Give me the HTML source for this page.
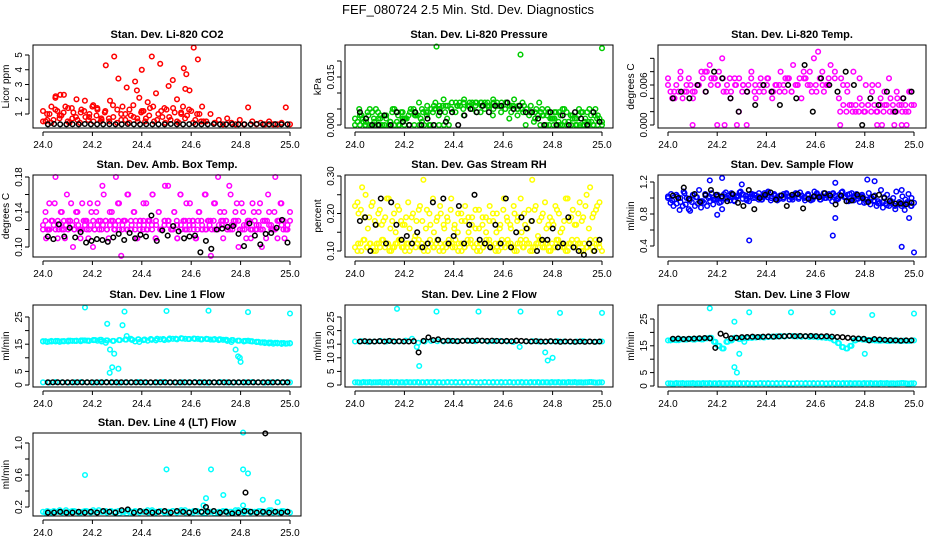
<!DOCTYPE html>
<html><head><meta charset="utf-8">
<style>
html,body{margin:0;padding:0;background:#fff;}
svg{display:block;font-family:"Liberation Sans",Arial,sans-serif;}
</style></head>
<body>
<svg id="chart" width="936" height="540" viewBox="0 0 936 540" xmlns="http://www.w3.org/2000/svg">
<rect width="936" height="540" fill="#fff"/>
<text x="468" y="14" text-anchor="middle" font-size="13">FEF_080724  2.5 Min. Std. Dev. Diagnostics</text>
</svg>
<script>
// ---------- data ----------
const co2Red = [1.2,0.6,1.5,2.2,0.9,2.3,1.4,0.7,2.0,1.1,1.9,0.8,1.6,1.3,0.6,4.3,1.9,4.9,3.4,1.5,2.8,0.9,3.2,2.1,1.2,1.8,4.9,2.4,4.4,1.4,2.9,3.3,2.0,1.0,2.7,2.6,5.5,4.7,1.5,0.5,1.0,0.4,0.6,0.3,0.7,0.4,0.3,0.6,0.3,1.45,0.5,0.3,0.4,0.3,0.5,0.3,0.3,0.4,1.45,0.3];
const co2RedLow = [0.5,1.0,0.4,1.3,0.7,1.1,0.5,1.4,0.8,0.4,1.2,0.6,1.5,0.9,0.5,1.1,0.7,1.6,0.4,1.0,0.6,1.3,0.8,0.5,1.2,0.7,1.4,0.5,1.0,0.8,1.3,0.6,1.1,0.4,1.5,0.9,1.2,0.6,1.0,0.5];
const co2RedSparseX = [24.4,24.57,24.58,24.38,24.05,24.07];
const co2RedSparseY = [4.0,4.1,3.7,2.6,2.1,2.3];
const co2Black = [0.3,0.32,0.3,0.3,0.31,0.3,0.32,0.3,0.3,0.3,0.31,0.3,0.3,0.32,0.3,0.3,0.31,0.3,0.3,0.3,0.32,0.3,0.3,0.31,0.3,0.3,0.3,0.32,0.3,0.3,0.31,0.3,0.3,0.3,0.32,0.3,0.3,0.31,0.3,0.3];

const presGreen = [0.002,0.005,0.001,0.004,0.000,0.005,0.002,0.003,0.000,0.005,0.001,0.004,0.002,0.000,0.005,0.003,0.001,0.004,0.000,0.005,0.003,0.006,0.002,0.005,0.004,0.007,0.003,0.006,0.005,0.007,0.004,0.007,0.006,0.008,0.006,0.007,0.007,0.006,0.008,0.006,0.007,0.005,0.006,0.004,0.007,0.003,0.005,0.002,0.004,0.000,0.005,0.001,0.003,0.000,0.004,0.002,0.005,0.000,0.003,0.001];
const presGreen2 = [0.003,0.001,0.004,0.002,0.003,0.001,0.004,0.002,0.003,0.004,0.002,0.003,0.004,0.005,0.004,0.005,0.006,0.005,0.006,0.007,0.006,0.007,0.007,0.006,0.007,0.006,0.005,0.006,0.004,0.005,0.003,0.004,0.002,0.003,0.004,0.002,0.003,0.001,0.003,0.002];
const presZerosA = [0,0,0,0,0,0,0,0,0,0,0,0,0,0,0,0,0,0,0,0];
const presZerosB = [0,0,0,0,0,0,0,0,0,0,0,0,0,0,0];
const presOutX = [24.33,24.67,25.0];
const presOutY = [0.0245,0.022,0.024];
const presBlack = [0.004,0.002,0,0,0.003,0,0.004,0.001,0,0.004,0,0.002,0,0.004,0.001,0.004,0,0.003,0.005,0.004,0.006,0.004,0.006,0.006,0.007,0.005,0.006,0.004,0.004,0.002,0,0.004,0,0.003,0,0.004,0.002,0,0.004,0.001];

const tempMag = [.007,.004,.006,.008,.005,.007,.004,.006,.008,.005,.009,.007,.006,.010,.005,.004,.007,.002,.006,.005,.008,.004,.006,.005,.007,.004,.006,.008,.005,.007,.009,.006,.004,.007,.008,.010,.011,.008,.006,.009,.007,.004,.006,.005,.003,.002,.004,.002,.003,.006,.002,.004,.003,.007,.002,.004,.003,.002,.005,.003];
const tempMag2 = [.006,.005,.007,.006,.005,.006,.008,.007,.006,.005,.007,.006,.005,.006,.005,.007,.006,.005,.006,.007,.005,.006,.007,.006,.005,.006,.007,.008,.007,.006,.008,.007,.006,.005,.006,.005,.004,.005,.004,.005];
const tempLow = [.002,.003,.002,.003,.002,.003,.002,.003,.002,.003,.002,.003,.002,.003,.002,.003,.002,.003,.002,.003,.002,.003,.002,.003];
const tempZeroX = [24.1,24.2,24.23,24.28,24.32,24.7,24.85,24.87,24.92,24.95,24.97];
const tempZeroY = [0,0,0,0,0,0,0,0,0,0,0];
const tempBlack = [.004,.005,.004,.006,.005,.008,.007,.004,.002,.005,.003,.006,.005,.003,.006,.004,.009,.002,.007,.006,.005,.008,.006,.000,.004,.003,.005,.002,.004,.005];

const ambMag = [.12,.11,.15,.13,.18,.12,.14,.11,.13,.15,.12,.14,.11,.13,.12,.15,.10,.14,.12,.17,.13,.11,.14,.12,.15,.09,.13,.16,.12,.14,.11,.13,.12,.15,.13,.16,.11,.14,.12,.13,.17,.12,.14,.11,.16,.13,.12,.15,.13,.11,.14,.12,.16,.13,.12,.15,.18,.13,.14,.12,.16,.13,.15,.12,.14,.11,.13,.15,.12,.14,.10,.13,.16,.12,.14,.11,.15,.13,.12,.14];
const ambMag2 = [.125,.12,.13,.12,.125,.13,.12,.125,.13,.12,.125,.12,.13,.125,.12,.13,.125,.12,.13,.125,.12,.13,.12,.125,.13,.12,.125,.13,.12,.125,.13,.12,.125,.12,.13,.125,.12,.13,.125,.12,.13,.12,.125,.13,.12,.125,.13,.12,.125,.13,.12,.125,.12,.13,.125,.12,.13,.125,.12,.13];
const ambBlack = [.112,.109,.126,.112,.122,.111,.117,.105,.107,.109,.108,.106,.111,.115,.108,.116,.110,.114,.112,.136,.107,.119,.113,.124,.118,.110,.112,.113,.094,.107,.098,.120,.121,.123,.124,.115,.101,.127,.113,.103,.115,.116,.122,.131,.105];

const rhLow = [.11,.12,.10,.13,.11,.12,.10,.12,.11,.13,.12,.10,.11,.12,.13,.11,.10,.12,.11,.13,.12,.11,.10,.12,.13,.11,.12,.10,.11,.12,.13,.12,.11,.10,.12,.11,.13,.12,.11,.12,.10,.11,.13,.12,.11,.10,.12,.13,.11,.12,.11,.10,.12,.13,.11,.12,.10,.11,.12,.13,.11,.12,.10,.12,.11,.13,.12,.11,.10,.12,.11,.13,.12,.10,.11,.12,.11,.13,.12,.10];
const rhHigh = [.22,.20,.27,.25,.19,.23,.17,.21,.18,.24,.16,.20,.22,.18,.17,.23,.19,.14,.21,.18,.16,.20,.24,.18,.22,.17,.19,.21,.16,.15,.20,.18,.19,.17,.21,.16,.19,.15,.22,.18,.20,.17,.24,.18,.16,.20,.19,.15,.17,.21,.29,.22,.18,.20,.16,.19,.17,.21,.15,.18,.24,.19,.17,.20,.18,.22,.16,.19,.21,.23];
const rhBlack = [.18,.19,.10,.17,.24,.12,.23,.17,.13,.14,.12,.15,.11,.12,.23,.13,.24,.12,.14,.22,.12,.17,.25,.13,.12,.11,.17,.12,.24,.11,.15,.19,.16,.18,.10,.13,.13,.16,.11,.12,.19,.11,.10,.09,.12,.10,.13];

const flowBlue = [1.0,1.05,0.98,1.02,0.95,1.08,1.0,0.97,1.04,1.01,1.1,0.96,1.03,1.0,1.06,0.98,1.02,0.95,1.05,1.0,0.97,1.04,1.01,1.07,0.99,1.03,0.96,1.05,1.0,1.02,0.98,1.06,1.01,0.97,1.04,1.0,1.03,0.99,1.05,1.02,0.98,1.06,1.01,1.03,0.97,1.05,1.0,1.08,1.02,0.98,1.06,1.03,1.0,1.05,0.97,1.04,1.08,1.02,0.96,1.06,1.03,0.99,1.02,0.94,0.98,0.92,0.96,0.9,0.94,0.88,0.93,0.9,0.95,0.86,0.92,0.9,0.85,0.93,0.9,0.94];
const flowBlue2 = [1.02,0.97,1.04,1.0,1.06,0.99,1.03,1.01,0.96,1.05,1.02,0.98,1.04,1.0,1.07,1.01,0.97,1.03,1.05,0.99,1.02,1.04,0.98,1.01,1.06,1.0,1.03,0.99,1.05,1.02,1.0,1.04,1.07,1.01,1.03,0.98,1.05,1.02,1.0,1.04,1.06,0.99,1.03,1.01,1.05,0.97,1.02,1.04,0.95,1.0,0.97,0.93,0.95,0.91,0.94,0.9,0.93,0.92,0.95,0.9];
const flowOutX = [24.09,24.17,24.2,24.22,24.22,24.3,24.33,24.67,24.68,24.68,24.81,24.84,24.95,24.95,24.98,25.0];
const flowOutY = [0.84,1.22,0.79,1.25,0.86,1.17,0.47,0.53,0.75,1.19,1.23,1.21,0.39,1.1,0.75,0.32];
const flowBlack = [1.03,1.0,1.13,0.99,1.05,0.95,1.04,1.1,1.04,1.02,0.96,1.05,0.94,0.9,1.1,0.86,1.0,1.04,1.07,0.98,1.03,0.9,1.04,1.05,0.87,0.99,1.02,1.01,1.06,1.03,0.92,1.03,0.96,0.97,1.04,1.0,0.95,1.02,1.04,1.0,0.96,0.93,0.93,0.92,0.94];

const l1Cyan = [16,15.8,16.2,16,15.9,16.1,16,16.2,16.3,16.1,16.4,16.2,16.5,16.3,16,15.5,13,11.5,6,22,18,17,16,15.8,16.5,16.3,16.6,16.4,16.8,16.5,16.7,17,16.8,17.2,17,16.9,17.1,17,16.8,17,16.7,16.9,16.5,16.6,16.2,15.8,13,10,16,16.3,16,15.8,15.6,15.4,15.3,15.2,15.3,15.1,15.2,15.4];
const l1Cyan2 = [16.1,16,16.2,16.1,16.3,16.2,16.4,16.3,16.5,16.6,16.4,16.2,16.5,16.7,16.6,16.8,16.7,16.9,17,16.9,17.1,17,17.1,16.9,17,16.8,16.9,16.7,16.8,16.6,16.5,16.3,16.2,16.1,15.9,15.7,15.6,15.5,15.4,15.3];
const l1CyanLow = [1,0.9,1.1,1,0.9,1,1.1,1,0.9,1,1.1,1,0.9,1,1,1.1,1,0.9,1,1.1,1,0.9,1,1,1.1,1,0.9,1,1.1,1,0.9,1,1,1.1,1,0.9,1,1.1,1,1];
const l1OutX = [24.17,24.33,24.5,24.67,24.83,25.0,24.27,24.28,24.8,24.79,24.26];
const l1OutY = [28.5,27,27.2,27.3,26.8,26.3,4.5,6.5,8.5,10.5,22.5];
const l1Black = [1,1,1,1,1,1,1,1,1,1,1,1,1,1,1,1,1,1,1,1,1,1,1,1,1,1,1,1,1,1,1,1,1,1,1,1,1,1,1,1,1,1,1,1,1,1,1,1,1,1];

const l2Cyan = [16,16.1,15.9,16,16.2,16,16.1,16,16.3,17,15.5,16,16.2,16.1,16,16.2,16.1,16.3,16.2,16.1,16.2,16,16.1,16.2,16,15.8,14,16,16.1,16,15.9,16,16.1,16,15.9,16,16.1,16,15.9,16];
const l2CyanLow = [1,0.9,1.1,1,0.9,1,1.1,1,0.9,1,1.1,1,0.9,1,1,1.1,1,0.9,1,1.1,1,0.9,1,1,1.1,1,0.9,1,1.1,1,0.9,1,1,1.1,1,0.9,1,1.1,1,1,0.9,1,1.1,1,0.9,1,1,1.1,1,0.9,1,1.1,1,0.9,1,1,1.1,1,0.9,1];
const l2OutX = [24.17,24.33,24.5,24.67,24.83,25.0,24.26,24.78,24.8,24.77,24.25];
const l2OutY = [28,27,27,27,26.5,26.5,7,9,10,12,14];
const l2Black = [16,16.1,16,16,16.1,16,16.2,16,16.1,16,16,16.1,12,16.2,17.5,16.5,16.8,16.2,16.3,16.2,16.1,16.2,16.3,16.2,16.4,16.3,16.2,16.3,16.2,16.1,16.2,16.1,16.3,16.2,16.1,16,16.1,16,16,16.1,16,15.9,16,16,15.9,16,15.9,16,15.9,16];

const l3Cyan = [17,17.2,17.1,17.4,17.3,17.5,17.3,17.6,17.4,17.8,18,16.5,15,14,16.5,17,18,17.5,17.8,17.9,18,18.1,18.2,18.1,18.3,18.4,18.5,18.6,18.5,18.7,18.6,18.5,18.4,18.5,18.3,18.4,18.2,18.1,18,17.8,17,16,14.5,14,15,17,17.5,17.3,17.2,17.1,17,16.9,17,16.8,16.9,17,16.8,16.9,16.8,17];
const l3CyanLow = [1,0.9,1.1,1,0.9,1,1.1,1,0.9,1,1.1,1,0.9,1,1,1.1,1,0.9,1,1.1,1,0.9,1,1,1.1,1,0.9,1,1.1,1,0.9,1,1,1.1,1,0.9,1,1.1,1,1,0.9,1,1.1,1,0.9,1,1,1.1,1,0.9,1,1.1,1,0.9,1,1,1.1,1,0.9,1];
const l3OutX = [24.17,24.33,24.5,24.67,24.83,25.0,24.27,24.28,24.27,24.8,24.29,24.31];
const l3OutY = [29,27.5,27.5,27.5,26.5,27,7,5,24,12,12,16.5];
const l3Black = [17.6,17.7,17.5,17.6,17.7,17.8,17.9,17.8,14.2,19.5,18.8,17.8,18,18.2,18.3,18.4,18.3,18.4,18.5,18.4,18.5,18.6,18.7,18.6,18.7,18.6,18.7,18.6,18.5,18.6,18.4,18.3,18.2,18,17.8,17.7,17.6,17,17.5,17.3,17.2,17.1,17,16.9,17,17];

const l4Cyan = [0.14,0.15,0.13,0.14,0.16,0.14,0.13,0.15,0.14,0.13,0.15,0.14,0.16,0.13,0.14,0.15,0.14,0.13,0.15,0.14,0.12,0.14,0.15,0.13,0.14,0.16,0.14,0.13,0.15,0.14,0.13,0.15,0.14,0.16,0.13,0.14,0.15,0.14,0.13,0.15,0.14,0.12,0.14,0.15,0.13,0.14,0.16,0.14,0.13,0.15,0.14,0.13,0.15,0.14,0.16,0.13,0.14,0.15,0.14,0.13];
const l4OutX = [24.17,24.5,24.68,24.81,24.81,24.83,24.73,24.66,24.89,24.95,24.81,24.65];
const l4OutY = [0.6,0.67,0.67,1.13,0.67,0.62,0.35,0.31,0.29,0.26,0.22,0.22];
const l4Black = [0.13,0.13,0.14,0.13,0.13,0.14,0.13,0.14,0.13,0.15,0.14,0.13,0.16,0.17,0.13,0.15,0.14,0.13,0.14,0.15,0.13,0.15,0.14,0.13,0.15,0.14,0.14,0.15,0.13,0.14,0.12,0.13,0.15,0.14,0.13,0.14,0.13,0.14,0.13,0.14];
const l4BlackOutX = [24.9,24.82,24.66];
const l4BlackOutY = [1.12,0.38,0.2];

const xTicks = [24.0,24.2,24.4,24.6,24.8,25.0];
const xTickLabels = ["24.0","24.2","24.4","24.6","24.8","25.0"];

// ---------- layout ----------
const colBox = [[33,301,43,290],[345,613,355,602],[658,926,668,914]];
const rowBox = [[45,128],[175,257],[305,387],[433,516]];
const RED='#ff0000', GRN='#00cc00', MAG='#ff00ff', YEL='#ffff00', BLU='#0000ff', CYN='#00ffff', BLK='#000000';

const panels = [
 {name:'co2',title:'Stan. Dev. Li-820 CO2',ylab:'Licor ppm',c:0,r:0,ref:[1,114,5,55],ticks:[1,2,3,4,5],labs:{1:'1',2:'2',3:'3',4:'4',5:'5'},
  series:[[co2RedLow,24.0,24.65,RED],[co2RedLow,24.64,24.01,RED],[co2Red,24.0,25.0,RED],[co2RedSparseX,co2RedSparseY,RED],[co2Black,24.02,24.99,BLK]]},
 {name:'pressure',title:'Stan. Dev. Li-820 Pressure',ylab:'kPa',c:1,r:0,ref:[0,125,0.015,77],ticks:[0,0.005,0.01,0.015,0.02],labs:{0:'0.000',0.015:'0.015'},
  series:[[presZerosA,24.0,24.38,GRN],[presZerosB,24.75,25.0,GRN],[presGreen,24.0,25.0,GRN],[presGreen,24.99,24.01,GRN],[presGreen2,24.02,24.98,GRN],[presGreen2,24.97,24.03,GRN],[presOutX,presOutY,GRN],[presBlack,24.02,24.99,BLK]]},
 {name:'li820-temp',title:'Stan. Dev. Li-820 Temp.',ylab:'degrees C',c:2,r:0,ref:[0,125,0.006,85],ticks:[0,0.002,0.004,0.006,0.008,0.01],labs:{0:'0.000',0.006:'0.006'},
  series:[[tempMag,24.0,25.0,MAG],[tempMag2,24.0,24.98,MAG],[tempMag2,24.65,24.01,MAG],[tempLow,24.7,24.99,MAG],[tempZeroX,tempZeroY,MAG],[tempBlack,24.02,24.99,BLK]]},
 {name:'amb-box-temp',title:'Stan. Dev. Amb. Box Temp.',ylab:'degrees C',c:0,r:1,ref:[0.10,247,0.18,177],ticks:[0.10,0.12,0.14,0.16,0.18],labs:{0.10:'0.10',0.14:'0.14',0.18:'0.18'},
  series:[[ambMag2,24.0,25.0,MAG],[ambMag2,24.99,24.01,MAG],[ambMag,24.0,25.0,MAG],[ambMag,24.99,24.01,MAG],[ambBlack,24.02,24.99,BLK]]},
 {name:'gas-rh',title:'Stan. Dev. Gas Stream RH',ylab:'percent',c:1,r:1,ref:[0.10,251,0.30,176],ticks:[0.10,0.15,0.20,0.25,0.30],labs:{0.10:'0.10',0.20:'0.20',0.30:'0.30'},
  series:[[rhLow,24.0,25.0,YEL],[rhLow,24.99,24.01,YEL],[rhHigh,24.0,24.99,YEL],[rhHigh,24.98,24.01,YEL],[rhBlack,24.02,24.99,BLK]]},
 {name:'sample-flow',title:'Stan. Dev. Sample Flow',ylab:'ml/min',c:2,r:1,ref:[0.4,246,1.2,182],ticks:[0.4,0.6,0.8,1.0,1.2],labs:{0.4:'0.4',0.8:'0.8',1.2:'1.2'},
  series:[[flowBlue,24.0,25.0,BLU],[flowBlue,24.99,24.01,BLU],[flowBlue2,24.0,24.99,BLU],[flowOutX,flowOutY,BLU],[flowBlack,24.02,24.99,BLK]]},
 {name:'line1-flow',title:'Stan. Dev. Line 1 Flow',ylab:'ml/min',c:0,r:2,ref:[0,385,25,317],ticks:[0,5,10,15,20,25],labs:{0:'0',5:'5',15:'15',25:'25'},
  series:[[l1CyanLow,24.0,25.0,CYN],[l1Cyan2,24.0,25.0,CYN],[l1Cyan2,24.01,24.99,CYN],[l1Cyan,24.0,25.0,CYN],[l1OutX,l1OutY,CYN],[l1Black,24.02,24.99,BLK]]},
 {name:'line2-flow',title:'Stan. Dev. Line 2 Flow',ylab:'ml/min',c:1,r:2,ref:[0,385,25,317],ticks:[0,5,10,15,20,25],labs:{0:'0',5:'5',10:'10',15:'15',20:'20',25:'25'},
  series:[[l2CyanLow,24.0,25.0,CYN],[l2CyanLow,24.99,24.01,CYN],[l2Cyan,24.0,25.0,CYN],[l2OutX,l2OutY,CYN],[l2Black,24.02,24.99,BLK]]},
 {name:'line3-flow',title:'Stan. Dev. Line 3 Flow',ylab:'ml/min',c:2,r:2,ref:[0,386,25,319],ticks:[0,5,10,15,20,25],labs:{0:'0',5:'5',15:'15',25:'25'},
  series:[[l3CyanLow,24.0,25.0,CYN],[l3CyanLow,24.99,24.01,CYN],[l3Cyan,24.0,25.0,CYN],[l3Cyan,24.01,24.99,CYN],[l3OutX,l3OutY,CYN],[l3Black,24.02,24.99,BLK]]},
 {name:'line4-flow',title:'Stan. Dev. Line 4 (LT) Flow',ylab:'ml/min',c:0,r:3,ref:[0.2,507,1.0,443],ticks:[0.2,0.4,0.6,0.8,1.0],labs:{0.2:'0.2',0.6:'0.6',1.0:'1.0'},
  series:[[l4Cyan,24.0,25.0,CYN],[l4Cyan,24.99,24.01,CYN],[l4OutX,l4OutY,CYN],[l4Black,24.02,24.99,BLK],[l4BlackOutX,l4BlackOutY,BLK]]}
];

const NS='http://www.w3.org/2000/svg';
const svg=document.getElementById('chart');
function mk(tag,attrs,parent,text){const e=document.createElementNS(NS,tag);for(const k in attrs)e.setAttribute(k,attrs[k]);if(text!==undefined)e.textContent=text;parent.appendChild(e);return e;}

panels.forEach(p=>{
  const [bx0,bx1,x24,x25]=colBox[p.c];
  const [by0,by1]=rowBox[p.r];
  const xs=v=>x24+(v-24)*(x25-x24);
  const [v1,py1,v2,py2]=p.ref;
  const ys=v=>py1+(v-v1)*(py2-py1)/(v2-v1);
  const g=mk('g',{},svg);
  
  
  const t=mk('text',{x:(bx0+bx1)/2,y:by0-7,'text-anchor':'middle','font-size':'11','font-weight':'bold'},g,p.title);
  
  
  const pts=mk('g',{fill:'none','stroke-width':'1.5'},g);
  
  
  p.series.forEach(s=>{
    let X,Y,col;
    if(s.length===4){const vals=s[0],a=s[1],b=s[2];col=s[3];Y=vals;X=vals.map((_,i)=>a+i*(b-a)/Math.max(1,vals.length-1));}
    else{X=s[0];Y=s[1];col=s[2];}
    X.forEach((xv,i)=>{
      const c=mk('circle',{cx:xs(xv).toFixed(1),cy:ys(Y[i]).toFixed(1),r:'2.3',stroke:col},pts);
      
      
    });
  });
  const box=mk('rect',{x:bx0,y:by0,width:bx1-bx0,height:by1-by0,fill:'none',stroke:'#000','stroke-width':'1'},g);
  
  
  const xa=mk('g',{},g);
  
  
  mk('line',{x1:xs(24),x2:xs(25),y1:by1+4,y2:by1+4,stroke:'#000'},xa);
  xTicks.forEach((v,i)=>{
    mk('line',{x1:xs(v),x2:xs(v),y1:by1+4,y2:by1+8,stroke:'#000'},xa);
    const l=mk('text',{x:xs(v),y:by1+20,'text-anchor':'middle','font-size':'10'},xa,xTickLabels[i]);
    
    
  });
  const ya=mk('g',{},g);
  
  
  const tk=p.ticks;
  mk('line',{x1:bx0-4,x2:bx0-4,y1:ys(tk[0]),y2:ys(tk[tk.length-1]),stroke:'#000'},ya);
  tk.forEach(v=>{
    const yy=ys(v);
    mk('line',{x1:bx0-8,x2:bx0-4,y1:yy,y2:yy,stroke:'#000'},ya);
    const key=Object.keys(p.labs).find(k=>Math.abs(parseFloat(k)-v)<1e-9);
    if(key!==undefined){
      const l=mk('text',{x:0,y:0,'text-anchor':'middle','font-size':'10',transform:`translate(${bx0-11},${yy}) rotate(-90)`},ya,p.labs[key]);
      
      
    }
  });
  const yl=mk('text',{x:0,y:0,'text-anchor':'middle','font-size':'10',transform:`translate(${bx0-24},${(by0+by1)/2}) rotate(-90)`},ya,p.ylab);
  
  
});
</script>
</body></html>
